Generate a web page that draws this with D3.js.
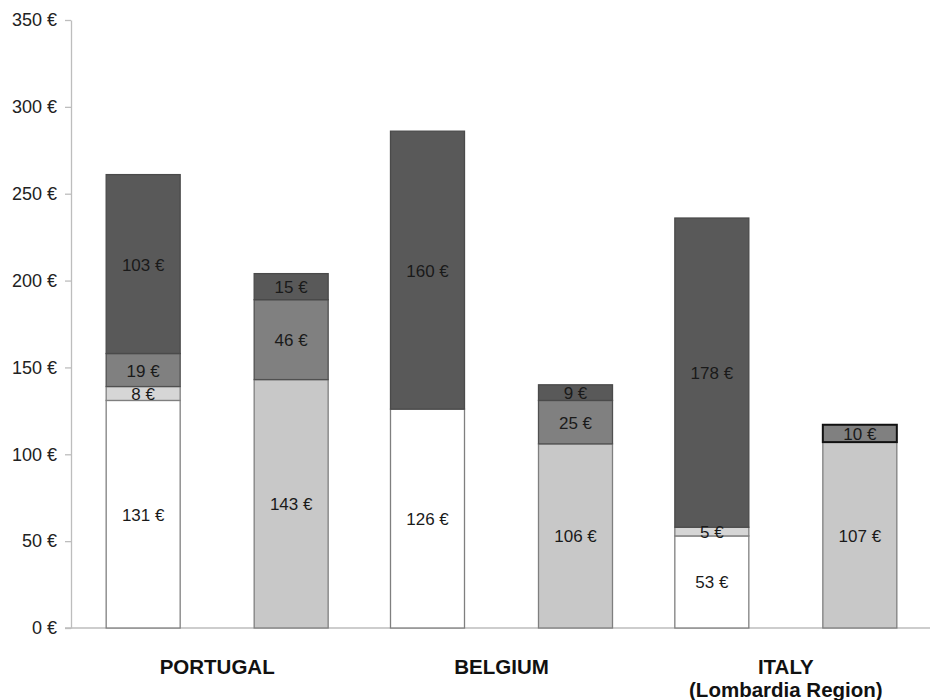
<!DOCTYPE html>
<html>
<head>
<meta charset="utf-8">
<script src="https://cdn.jsdelivr.net/npm/d3@7"></script>
<style>
  html, body { margin: 0; padding: 0; background: #fff; }
  svg { display: block; font-family: "Liberation Sans", Arial, sans-serif; }
</style>
</head>
<body>
<svg id="chart" width="930" height="700"></svg>
<script>
// ---- data ----
const categories = ["PORTUGAL", "BELGIUM", "ITALY"];
const categorySub = ["", "", "(Lombardia Region)"];
// first bar of each country
const barA_base  = [131, 126, 53];
const barA_light = [8, 0, 5];
const barA_mid   = [19, 0, 0];
const barA_dark  = [103, 160, 178];
// second bar of each country
const barB_base  = [143, 106, 107];
const barB_mid   = [46, 25, 10];
const barB_dark  = [15, 9, 0];
const yTicks = [0, 50, 100, 150, 200, 250, 300, 350];

// ---- styles ----
const fills = { baseA: "#ffffff", light: "#d6d6d6", baseB: "#c8c8c8", mid: "#808080", dark: "#595959" };
const strokes = { baseA: "#7f7f7f", light: "#7f7f7f", baseB: "#7f7f7f", mid: "#505050", dark: "#4a4a4a" };

const svg = d3.select("#chart");
const margin = { top: 20, bottom: 72, left: 71 };
const H = 700;

const y = d3.scaleLinear().domain([0, 350]).range([H - margin.bottom, margin.top]);
const x = d3.scaleBand().domain(categories).range([75, 928]).padding(0);
const inner = d3.scaleBand().domain(["A", "B"]).range([-148, 148]).paddingInner(0.5).paddingOuter(0.25);

// build segments
const segments = [];
categories.forEach((c, i) => {
  const stacks = [
    { bar: "A", parts: [["baseA", barA_base[i]], ["light", barA_light[i]], ["mid", barA_mid[i]], ["dark", barA_dark[i]]] },
    { bar: "B", parts: [["baseB", barB_base[i]], ["mid", barB_mid[i]], ["dark", barB_dark[i]]] }
  ];
  stacks.forEach(s => {
    let acc = 0;
    const nonZero = s.parts.filter(p => p[1] > 0);
    nonZero.forEach((p, k) => {
      segments.push({ cat: c, bar: s.bar, key: p[0], v0: acc, v1: acc + p[1], value: p[1], top: k === nonZero.length - 1 });
      acc += p[1];
    });
  });
});

// axes lines
const y0 = y(0);
svg.append("line").attr("x1", 65).attr("x2", 930).attr("y1", y0).attr("y2", y0)
  .attr("stroke", "#bdbdbd").attr("stroke-width", 1.3);

const yAxis = d3.axisLeft(y).tickValues(yTicks).tickSize(6).tickSizeOuter(0)
  .tickFormat(d => d + " €");
const gy = svg.append("g").attr("transform", `translate(${margin.left},0)`).call(yAxis);
gy.select(".domain").attr("stroke", "#bdbdbd").attr("stroke-width", 1.3);
gy.selectAll(".tick line").attr("stroke", "#bdbdbd").attr("stroke-width", 1.3);
gy.selectAll(".tick text").attr("x", -14).attr("fill", "#222")
  .style("font-size", "18px").style("font-family", "'Liberation Sans', Arial, sans-serif");

// bars
const cx = d => x(d.cat) + x.bandwidth() / 2 + inner(d.bar);
svg.append("g").selectAll("rect").data(segments).join("rect")
  .attr("x", d => cx(d))
  .attr("width", inner.bandwidth())
  .attr("y", d => y(d.v1))
  .attr("height", d => y(d.v0) - y(d.v1))
  .attr("fill", d => fills[d.key])
  .attr("stroke", d => (d.key === "mid" && d.top) ? "#111" : strokes[d.key])
  .attr("stroke-width", d => (d.key === "mid" && d.top) ? 2 : 1.3);

// value labels
svg.append("g").selectAll("text").data(segments).join("text")
  .attr("x", d => cx(d) + inner.bandwidth() / 2)
  .attr("y", d => (y(d.v0) + y(d.v1)) / 2 + 1)
  .attr("text-anchor", "middle")
  .attr("dominant-baseline", "central")
  .attr("fill", "#1a1a1a")
  .style("font-size", "17px")
  .text(d => d.value + " €");

// category labels
const cl = svg.append("g").selectAll("g").data(categories).join("g")
  .attr("transform", c => `translate(${x(c) + x.bandwidth() / 2},0)`);
cl.append("text").attr("y", 674).attr("text-anchor", "middle")
  .style("font-size", "20.5px").style("font-weight", "bold").attr("fill", "#111")
  .text(c => c);
cl.append("text").attr("y", 697).attr("text-anchor", "middle")
  .style("font-size", "20.5px").style("font-weight", "bold").attr("fill", "#111")
  .text((c, i) => categorySub[i]);
</script>
</body>
</html>
